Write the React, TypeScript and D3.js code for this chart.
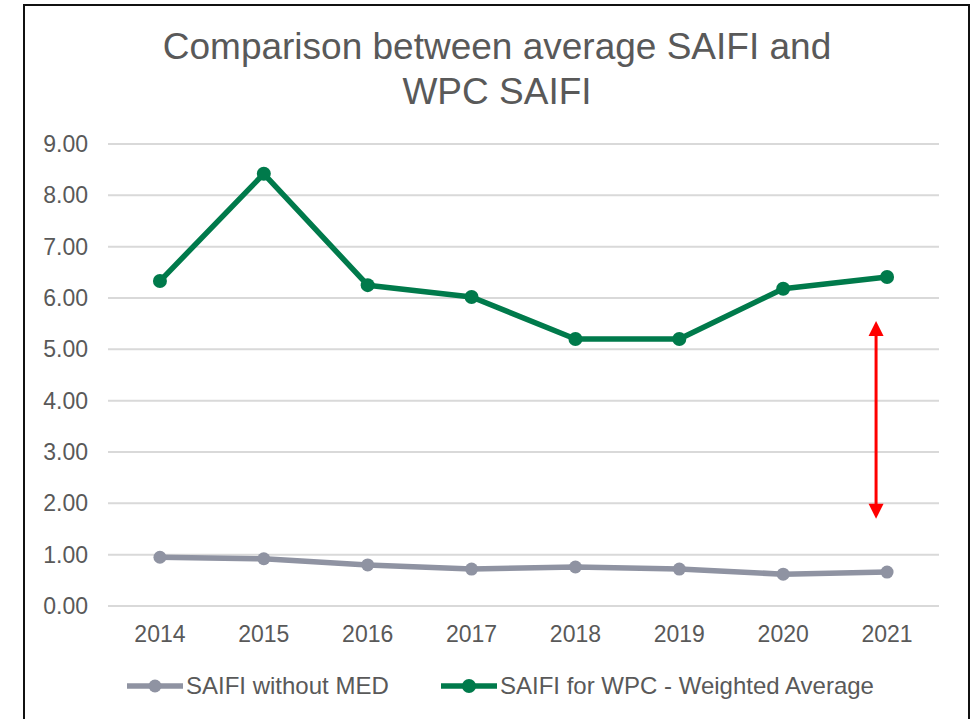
import React, { useRef, useEffect } from "react";
import * as d3 from "d3";

const years = ["2014", "2015", "2016", "2017", "2018", "2019", "2020", "2021"];
const saifiWithoutMed = [0.95, 0.92, 0.8, 0.72, 0.76, 0.72, 0.62, 0.66];
const saifiWpc = [6.33, 8.42, 6.25, 6.02, 5.2, 5.2, 6.18, 6.41];
const yTicks = [0, 1, 2, 3, 4, 5, 6, 7, 8, 9];
const titleLines = ["Comparison between average SAIFI and", "WPC SAIFI"];
const arrowRange = [5.55, 1.7];

const W = 977;
const H = 719;
const GRAY = "#8f93a2";
const GREEN = "#007a4b";
const TEXT = "#595959";
const FONT = "'Liberation Sans', Arial, sans-serif";

const App = () => {
  const ref = useRef<SVGSVGElement>(null);

  useEffect(() => {
    const svg = d3.select(ref.current);
    svg.selectAll("*").remove();

    // chart frame
    svg
      .append("rect")
      .attr("x", 24)
      .attr("y", 5)
      .attr("width", 945)
      .attr("height", H + 20)
      .attr("fill", "#fff")
      .attr("stroke", "#111")
      .attr("stroke-width", 2);

    // title
    svg
      .append("g")
      .selectAll("text")
      .data(titleLines)
      .enter()
      .append("text")
      .attr("x", 497)
      .attr("y", (d, i) => 59 + i * 45)
      .attr("text-anchor", "middle")
      .attr("font-family", FONT)
      .attr("font-size", 37)
      .attr("fill", TEXT)
      .text((d) => d);

    const x = d3.scaleBand().domain(years).range([108, 939]).padding(0);
    const cx = (d: string) => (x(d) as number) + x.bandwidth() / 2;
    const y = d3.scaleLinear().domain([0, 9]).range([606, 144]);

    // gridlines + y labels
    const grid = svg.append("g");
    grid
      .selectAll("line")
      .data(yTicks)
      .enter()
      .append("line")
      .attr("x1", 108)
      .attr("x2", 939)
      .attr("y1", (d) => y(d))
      .attr("y2", (d) => y(d))
      .attr("stroke", "#d9d9d9")
      .attr("stroke-width", 2);
    grid
      .selectAll("text")
      .data(yTicks)
      .enter()
      .append("text")
      .attr("x", 88)
      .attr("y", (d) => y(d))
      .attr("dy", "0.35em")
      .attr("text-anchor", "end")
      .attr("font-family", FONT)
      .attr("font-size", 23)
      .attr("fill", TEXT)
      .text((d) => d.toFixed(2));

    // x labels
    svg
      .append("g")
      .selectAll("text")
      .data(years)
      .enter()
      .append("text")
      .attr("x", (d) => cx(d))
      .attr("y", 634)
      .attr("dy", "0.35em")
      .attr("text-anchor", "middle")
      .attr("font-family", FONT)
      .attr("font-size", 23)
      .attr("fill", TEXT)
      .text((d) => d);

    const line = d3
      .line<number>()
      .x((d, i) => cx(years[i]))
      .y((d) => y(d));

    const series = [
      { values: saifiWithoutMed, color: GRAY, r: 6.5 },
      { values: saifiWpc, color: GREEN, r: 7 },
    ];

    series.forEach((s) => {
      svg
        .append("path")
        .datum(s.values)
        .attr("d", line)
        .attr("fill", "none")
        .attr("stroke", s.color)
        .attr("stroke-width", 5.5)
        .attr("stroke-linejoin", "round");
      svg
        .append("g")
        .selectAll("circle")
        .data(s.values)
        .enter()
        .append("circle")
        .attr("cx", (d, i) => cx(years[i]))
        .attr("cy", (d) => y(d))
        .attr("r", s.r)
        .attr("fill", s.color);
    });

    // red double arrow
    const ax = cx("2021") - 11;
    const yTop = y(arrowRange[0]);
    const yBot = y(arrowRange[1]);
    svg
      .append("line")
      .attr("x1", ax)
      .attr("x2", ax)
      .attr("y1", yTop + 12)
      .attr("y2", yBot - 12)
      .attr("stroke", "#ff0000")
      .attr("stroke-width", 3);
    svg
      .append("path")
      .attr("d", `M${ax},${yTop} L${ax - 7.5},${yTop + 15} L${ax + 7.5},${yTop + 15} Z`)
      .attr("fill", "#ff0000");
    svg
      .append("path")
      .attr("d", `M${ax},${yBot} L${ax - 7.5},${yBot - 15} L${ax + 7.5},${yBot - 15} Z`)
      .attr("fill", "#ff0000");

    // legend
    const legend = [
      { label: "SAIFI without MED", color: GRAY, r: 6.5, x0: 127 },
      { label: "SAIFI for WPC - Weighted Average", color: GREEN, r: 7, x0: 441 },
    ];
    const lg = svg.append("g");
    legend.forEach((l) => {
      lg.append("line")
        .attr("x1", l.x0)
        .attr("x2", l.x0 + 56)
        .attr("y1", 686)
        .attr("y2", 686)
        .attr("stroke", l.color)
        .attr("stroke-width", 5.5);
      lg.append("circle")
        .attr("cx", l.x0 + 28)
        .attr("cy", 686)
        .attr("r", l.r)
        .attr("fill", l.color);
      lg.append("text")
        .attr("x", l.x0 + 59)
        .attr("y", 686)
        .attr("dy", "0.35em")
        .attr("font-family", FONT)
        .attr("font-size", 24)
        .attr("fill", TEXT)
        .text(l.label);
    });
  }, []);

  return (
    <svg
      ref={ref}
      width={W}
      height={H}
      style={{ position: "absolute", left: 0, top: 0, background: "#fff" }}
    />
  );
};

export default App;
